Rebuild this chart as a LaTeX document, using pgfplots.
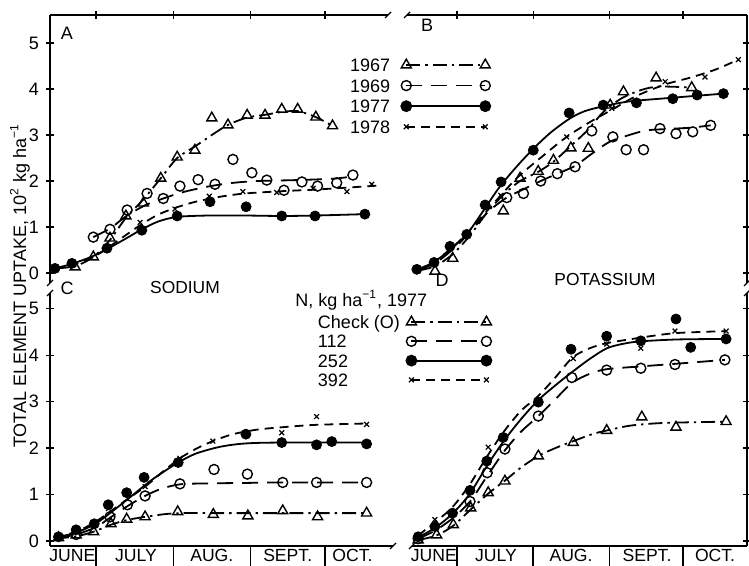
\documentclass[border=0pt]{standalone}
\usepackage{fontspec}
\setmainfont{Liberation Sans}
\usepackage{pgfplots}
\pgfplotsset{compat=1.18}
\tikzset{
 s67/.style={black, line width=0.9pt, dash pattern=on 7pt off 2.5pt on 1.2pt off 2.5pt},
 s69/.style={black, line width=0.9pt, dash pattern=on 8pt off 4.5pt},
 s77/.style={black, line width=0.9pt, solid},
 s78/.style={black, line width=0.9pt, dash pattern=on 4.5pt off 3pt},
 k67/.style={mark=triangle, mark size=2.9pt, mark options={solid, black, line width=0.7pt, fill=white}},
 k69/.style={mark=o, mark size=2.5pt, mark options={solid, black, line width=0.7pt, fill=white}},
 k77/.style={mark=*, mark size=2.5pt, mark options={solid, black, fill=black}},
 k78/.style={mark=x, mark size=1.7pt, mark options={solid, black, line width=0.6pt}},
}
\pgfplotsset{
 panel/.style={scale only axis, clip=false,
  axis line style={black, line width=0.7pt},
  tick align=inside, major tick length=4pt, tick style={black, line width=0.7pt},
  tick label style={font=\fontsize{9}{10}\selectfont},
  /pgf/number format/assume math mode=true,
  ytick={0,1,2,3,4,5}},
 noarrows/.style={
  every outer x axis line/.append style={-}, every outer y axis line/.append style={-},
  every inner x axis line/.append style={-}, every inner y axis line/.append style={-},
  axis line style={-}, x axis line style={-}, y axis line style={-}},
}
\newcommand{\mon}{\fontsize{8.8}{10}\selectfont}
\begin{document}
\begin{tikzpicture}
\path[use as bounding box] (0pt,0pt) rectangle (374.5pt,-283pt);

% ---------------- Panel A ----------------
\begin{axis}[panel, at={(25pt,-7.5pt)}, anchor=north west, width=169pt, height=134pt,
 xmin=11.5, xmax=147.3, ymin=-0.217, ymax=5.61,
 axis x line=top, axis y line=left, noarrows,
 xtick={30,61,92,122}, xticklabels={},
 yticklabels={0,1,2,3,4,5},
 legend style={draw=none, fill=none, at={(rel axis cs:0.8876,0.8377)}, anchor=north west,
  font=\fontsize{9}{10}\selectfont, row sep=3.8pt, inner sep=0pt, outer sep=0pt,
  nodes={inner sep=0pt, text height=6.5pt, text depth=0pt},
  /tikz/every odd column/.append style={column sep=5.6pt}},
 legend plot pos=right, legend cell align=left,
 legend image code/.code={\draw[#1] plot coordinates {(0pt,0pt) (39.5pt,0pt)};},
]
\addlegendimage{s67,k67}\addlegendentry{1967}
\addlegendimage{s69,k69}\addlegendentry{1969}
\addlegendimage{s77,k77}\addlegendentry{1977}
\addlegendimage{s78,k78}\addlegendentry{1978}
\addplot[s67, smooth, forget plot] coordinates {(13.5,0.1) (21.6,0.15) (28.9,0.35) (35.6,0.72) (42,1.2) (49,1.6) (56,2.06) (62.6,2.5) (69.7,2.75) (76.5,3.0) (83,3.22) (90.7,3.38) (97.9,3.44) (104.6,3.5) (111,3.52) (118.3,3.39) (125,3.2)};
\addplot[s69, smooth, forget plot] coordinates {(28.9,0.78) (35.6,0.97) (42.5,1.25) (50,1.48) (57,1.62) (65,1.76) (75,1.88) (85,1.96) (95,2.0) (110,2.02) (125,2.05) (133.2,2.1)};
\addplot[s77, smooth, forget plot] coordinates {(13.5,0.1) (20.3,0.2) (28,0.35) (34.4,0.52) (42,0.75) (48.4,0.95) (55,1.12) (62.6,1.22) (75,1.25) (90,1.25) (104.6,1.24) (118,1.25) (138,1.28)};
\addplot[s78, smooth, forget plot] coordinates {(13.5,0.1) (21,0.18) (30,0.38) (40,0.75) (48,1.05) (55,1.27) (62,1.42) (70,1.55) (80,1.66) (90,1.73) (105,1.78) (120,1.82) (143,1.9)};
\addplot[only marks, k67, forget plot] coordinates {(21.6,0.13) (28.9,0.35) (35.6,0.76) (42,1.24) (49,1.52) (56,2.06) (62.6,2.52) (69.7,2.67) (76.5,3.37) (83,3.22) (90.7,3.43) (97.9,3.43) (104.6,3.56) (111,3.56) (118.3,3.39) (125,3.2)};
\addplot[only marks, k69, forget plot] coordinates {(28.9,0.78) (35.6,0.95) (42.5,1.37) (50.5,1.73) (57,1.62) (63.7,1.89) (71,2.03) (77.8,1.93) (85,2.47) (92.6,2.18) (98.6,2.02) (105.5,1.8) (112.7,1.98) (119,1.89) (126.7,1.96) (133.2,2.13)};
\addplot[only marks, k77, forget plot] coordinates {(13.5,0.1) (20.3,0.21) (34.4,0.54) (48.4,0.93) (62.6,1.24) (75.8,1.55) (90.3,1.44) (104.6,1.24) (118,1.24) (138,1.28)};
\addplot[only marks, k78, forget plot] coordinates {(34.4,0.5) (47.7,1.1) (61.7,1.39) (75.5,1.67) (89,1.77) (102.6,1.75) (117.2,1.84) (130.8,1.77) (140.8,1.93)};
\end{axis}

% ---------------- Panel B ----------------
\begin{axis}[panel, at={(203.5pt,-7.5pt)}, anchor=north west, width=170pt, height=134pt,
 xmin=9.6, xmax=148, ymin=-0.217, ymax=5.61,
 axis x line=top, axis y line=right, noarrows,
 xtick={30,61,92,122}, xticklabels={}, yticklabels={},
]
\addplot[s67, smooth] coordinates {(14,0.05) (21,0.15) (28,0.4) (35,0.8) (42,1.3) (48.8,1.7) (55.6,2.0) (63,2.2) (69.2,2.42) (76,2.75) (83,3.1) (89.5,3.5) (97,3.8) (105,3.98) (111,4.05) (118,4.05) (125.5,4.03)};
\addplot[s69, smooth] coordinates {(14,0.05) (22,0.25) (30,0.6) (37,1.0) (43,1.35) (50.2,1.64) (57,1.82) (64,2.0) (70.8,2.16) (78,2.33) (85,2.6) (92,2.85) (100,3.0) (107,3.1) (115,3.13) (125,3.16) (133.2,3.21)};
\addplot[s77, smooth] coordinates {(13.6,0.08) (20,0.22) (27,0.5) (34,0.85) (40,1.3) (47,1.85) (54,2.3) (61,2.7) (68,3.05) (75.6,3.35) (82,3.52) (90,3.63) (100,3.73) (115,3.8) (138.4,3.9)};
\addplot[s78, smooth] coordinates {(14,0.05) (22,0.3) (30,0.65) (38,1.1) (47.8,1.69) (55,2.1) (65,2.55) (74.6,2.96) (84,3.28) (93,3.55) (103,3.85) (114.7,4.1) (125,4.25) (135,4.42) (144.5,4.64)};
\addplot[only marks, k67] coordinates {(21,0.04) (28.2,0.32) (48.8,1.35) (55.6,2.06) (63,2.21) (69.2,2.45) (76.3,2.72) (83.4,2.71) (92.3,3.65) (97.7,3.94) (111,4.24) (125.5,4.03)};
\addplot[only marks, k69] coordinates {(50.2,1.64) (57,1.73) (64,2.0) (70.8,2.16) (78,2.31) (84.8,3.09) (93.4,2.96) (98.8,2.68) (105.9,2.68) (112.6,3.14) (119.1,3.03) (125.9,3.07) (133.2,3.21)};
\addplot[only marks, k77] coordinates {(13.6,0.08) (20.6,0.23) (27.1,0.58) (33.9,0.84) (41.4,1.48) (47.9,1.98) (61,2.67) (75.6,3.48) (89.5,3.65) (103,3.7) (117.8,3.79) (127.7,3.87) (138.4,3.9)};
\addplot[only marks, k78] coordinates {(47.8,1.69) (74.6,2.96) (93,3.58) (114.7,4.16) (130.9,4.26) (144.5,4.64)};
\end{axis}

% ---------------- Panel C ----------------
\begin{axis}[panel, at={(25pt,-146.5pt)}, anchor=north west, width=171.5pt, height=126.5pt,
 xmin=11.5, xmax=149.3, ymin=-0.108, ymax=5.34,
 axis x line=bottom, axis y line=left, noarrows,
 xtick=\empty, yticklabels={0,1,2,3,4,5},
 extra x ticks={30,61,92,122}, extra x tick labels={},
 extra x tick style={major tick length=10pt, tick align=outside},
 legend style={draw=none, fill=none, at={(rel axis cs:0.7813,0.911)}, anchor=north west,
  font=\fontsize{9}{10}\selectfont, row sep=3.15pt, inner sep=0pt, outer sep=0pt,
  nodes={inner sep=0pt, text height=6.5pt, text depth=0pt},
  /tikz/every odd column/.append style={column sep=3.2pt}},
 legend plot pos=right, legend cell align=left,
 legend image code/.code={\draw[#1] plot coordinates {(0pt,0pt) (37.5pt,0pt)};},
]
\addlegendimage{s67,k67}\addlegendentry{Check (O)}
\addlegendimage{s69,k69}\addlegendentry{112}
\addlegendimage{s77,k77}\addlegendentry{252}
\addlegendimage{s78,k78}\addlegendentry{392}
\addplot[s67, smooth, forget plot] coordinates {(13.5,0.05) (22,0.1) (29,0.2) (36,0.35) (42.3,0.45) (49.7,0.52) (58,0.58) (65,0.6) (80,0.6) (100,0.6) (138.7,0.6)};
\addplot[s69, smooth, forget plot] coordinates {(13.5,0.06) (22,0.14) (30,0.3) (35.6,0.5) (42.6,0.75) (49.7,0.97) (56,1.12) (63.7,1.22) (75,1.24) (90,1.25) (105,1.26) (138.7,1.26)};
\addplot[s77, smooth, forget plot] coordinates {(14.9,0.09) (22,0.18) (30,0.38) (38,0.7) (45,1.0) (52,1.3) (58,1.52) (63,1.69) (70,1.88) (80,2.03) (90,2.1) (104.6,2.12) (138.7,2.12)};
\addplot[s78, smooth, forget plot] coordinates {(13.5,0.08) (22,0.2) (30,0.42) (40,0.8) (49.7,1.17) (57,1.5) (63.7,1.78) (70,1.98) (76.9,2.15) (85,2.3) (95,2.4) (105,2.45) (118,2.5) (138.7,2.53)};
\addplot[only marks, k67, forget plot] coordinates {(14.9,0.07) (22,0.13) (29,0.2) (36,0.37) (42.3,0.47) (49.7,0.52) (62.8,0.63) (77.1,0.57) (91,0.54) (105,0.65) (119,0.52) (138.7,0.6)};
\addplot[only marks, k69, forget plot] coordinates {(22,0.14) (35.6,0.52) (42.6,0.78) (49.7,0.97) (63.7,1.23) (77.4,1.54) (90.8,1.44) (105,1.26) (118.6,1.26) (138.7,1.26)};
\addplot[only marks, k77, forget plot] coordinates {(14.9,0.09) (22,0.24) (29.3,0.37) (34.9,0.78) (42.3,1.04) (49.3,1.37) (63,1.69) (90.2,2.3) (104.6,2.12) (118.6,2.07) (124.7,2.14) (138.7,2.09)};
\addplot[only marks, k78, forget plot] coordinates {(35,0.7) (49.7,1.17) (63.7,1.78) (76.9,2.15) (104.6,2.33) (118.6,2.68) (138.7,2.51)};
\node[font=\mon, anchor=north, inner sep=1.5pt] at (axis cs:20.5,-0.108) {JUNE};
\node[font=\mon, anchor=north, inner sep=1.5pt] at (axis cs:46,-0.108) {JULY};
\node[font=\mon, anchor=north, inner sep=1.5pt] at (axis cs:76.5,-0.108) {AUG.};
\node[font=\mon, anchor=north, inner sep=1.5pt] at (axis cs:107,-0.108) {SEPT.};
\node[font=\mon, anchor=north, inner sep=1.5pt] at (axis cs:133,-0.108) {OCT.};
\end{axis}

% ---------------- Panel D ----------------
\begin{axis}[panel, at={(206pt,-146.5pt)}, anchor=north west, width=167.5pt, height=126.5pt,
 xmin=11.7, xmax=148, ymin=-0.108, ymax=5.34,
 axis x line=bottom, axis y line=right, noarrows,
 xtick=\empty, yticklabels={},
 extra x ticks={30,61,92,122}, extra x tick labels={},
 extra x tick style={major tick length=10pt, tick align=outside},
]
\addplot[s67, smooth] coordinates {(14.2,0.02) (21.7,0.12) (28.5,0.33) (35.6,0.68) (42.7,1.02) (49.5,1.3) (56,1.58) (63.1,1.83) (70,2.0) (77.3,2.15) (85,2.3) (91,2.38) (100,2.48) (110,2.53) (120,2.55) (139.5,2.57)};
\addplot[s69, smooth] coordinates {(14.2,0.05) (21,0.22) (28,0.48) (35.3,0.85) (42.3,1.4) (49.5,1.95) (56,2.35) (63.1,2.69) (70,3.05) (76.7,3.4) (84,3.6) (91,3.7) (105,3.76) (120,3.82) (139,3.9)};
\addplot[s77, smooth] coordinates {(14.2,0.08) (21,0.28) (28,0.58) (35,1.0) (42,1.6) (49,2.15) (56,2.62) (63,3.03) (70,3.35) (76.4,3.62) (84,3.92) (91,4.15) (98,4.25) (105,4.3) (120,4.34) (139.5,4.35)};
\addplot[s78, smooth] coordinates {(14.2,0.12) (21,0.4) (28,0.72) (35,1.2) (42,1.8) (49,2.35) (56,2.8) (63,3.12) (70,3.52) (77,3.95) (84,4.15) (91,4.26) (100,4.34) (110,4.42) (120,4.48) (139.5,4.52)};
\addplot[only marks, k67] coordinates {(14.2,0.02) (21.7,0.13) (28.5,0.35) (35.6,0.71) (42.7,1.04) (49.5,1.29) (63.1,1.83) (77.3,2.12) (90.9,2.38) (105.2,2.67) (119.1,2.45) (139.5,2.57)};
\addplot[only marks, k69] coordinates {(14.2,0.05) (35.3,0.85) (42.3,1.47) (49.5,1.98) (63.1,2.69) (76.7,3.52) (90.9,3.68) (104.8,3.72) (118.7,3.8) (139,3.9)};
\addplot[only marks, k77] coordinates {(14.2,0.09) (21,0.31) (28.2,0.6) (35.3,1.09) (42.1,1.72) (48.8,2.23) (63.1,2.99) (76.4,4.13) (90.9,4.41) (104.8,4.31) (119.1,4.78) (125.1,4.17) (139.5,4.35)};
\addplot[only marks, k78] coordinates {(14.2,0.13) (21,0.46) (42.7,2.02) (77.3,3.93) (90.9,4.24) (104.8,4.15) (118.7,4.52) (139.5,4.52)};
\node[font=\mon, anchor=north, inner sep=1.5pt] at (axis cs:20.6,-0.108) {JUNE};
\node[font=\mon, anchor=north, inner sep=1.5pt] at (axis cs:45.9,-0.108) {JULY};
\node[font=\mon, anchor=north, inner sep=1.5pt] at (axis cs:76.4,-0.108) {AUG.};
\node[font=\mon, anchor=north, inner sep=1.5pt] at (axis cs:107.3,-0.108) {SEPT.};
\node[font=\mon, anchor=north, inner sep=1.5pt] at (axis cs:135,-0.108) {OCT.};
\end{axis}

% ---------------- text ----------------
\begin{scope}[font=\fontsize{9}{10}\selectfont]
\node at (33.5pt,-16.5pt) {A};
\node at (213.5pt,-12.5pt) {B};
\node at (33.5pt,-144pt) {C};
\node[font=\fontsize{8.7}{10}\selectfont] at (92.5pt,-144pt) {SODIUM};
\node at (221pt,-140pt) {D};
\node[font=\fontsize{8.7}{10}\selectfont] at (302.5pt,-140pt) {POTASSIUM};
\node[anchor=west, inner sep=0pt] at (147.5pt,-150pt) {N, kg ha\textsuperscript{−1}, 1977};
\node[rotate=90] at (10pt,-143pt) {TOTAL ELEMENT UPTAKE, 10\textsuperscript{2} kg ha\textsuperscript{−1}};
\end{scope}
% axis break marks
\begin{scope}[line width=0.7pt]
\draw (192.5pt,-9pt) -- (195.5pt,-6pt);
\draw (202pt,-9pt) -- (205pt,-6pt);
\draw (23.5pt,-143pt) -- (26.5pt,-140pt);
\draw (23.5pt,-148pt) -- (26.5pt,-145pt);
\draw (195pt,-274.5pt) -- (198pt,-271.5pt);
\draw (204.5pt,-274.5pt) -- (207.5pt,-271.5pt);
\draw (372pt,-143pt) -- (375pt,-140pt);
\draw (372pt,-148pt) -- (375pt,-145pt);
\end{scope}
\end{tikzpicture}
\end{document}
